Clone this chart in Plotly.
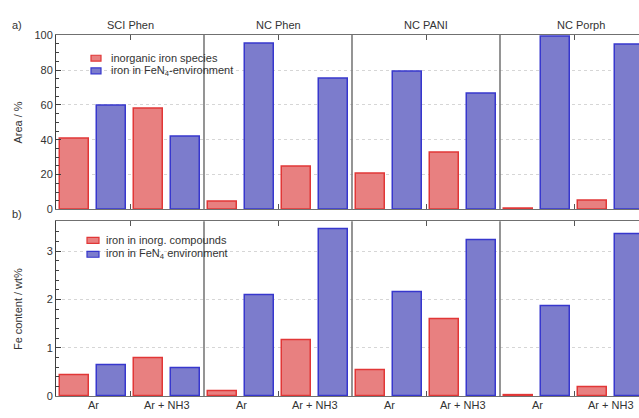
import plotly.graph_objects as go

# ---- data ----
groups = ["SCI Phen", "NC Phen", "NC PANI", "NC Porph"]
conditions = ["Ar", "Ar + NH3"]
area_inorg = [40.4, 57.7, 4.5, 24.7, 20.3, 32.8, 0.5, 5.0]
area_fen4 = [59.4, 41.9, 95.1, 74.9, 79.2, 66.6, 99.4, 94.4]
fe_inorg = [0.42, 0.79, 0.10, 1.15, 0.53, 1.59, 0.02, 0.18]
fe_fen4 = [0.63, 0.58, 2.08, 3.46, 2.14, 3.22, 1.86, 3.35]
legend_top = ["inorganic iron species", "iron in FeN<sub>4</sub>-environment"]
legend_bot = ["iron in inorg. compounds", "iron in FeN<sub>4</sub> environment"]

W, H = 639, 418
ML = 56
FONT = "Liberation Sans, Arial, sans-serif"
TXT = "#333333"

RED_FILL = "rgb(232,128,128)"
RED_LINE = "rgb(225,55,55)"
BLUE_FILL = "rgb(124,124,204)"
BLUE_LINE = "rgb(55,55,205)"

n = len(area_inorg)
x_red = [2 * i for i in range(n)]
x_blue = [2 * i + 1 for i in range(n)]

def py(px):
    return (H - px) / H

def pxx(px):
    return (px - ML) / (W - ML)

fig = go.Figure()
bw = 0.78
fig.add_trace(go.Bar(x=x_red, y=area_inorg, width=bw, name=legend_top[0], showlegend=False,
                     marker=dict(color=RED_FILL, line=dict(color=RED_LINE, width=1.5)),
                     xaxis="x", yaxis="y"))
fig.add_trace(go.Bar(x=x_blue, y=area_fen4, width=bw, name=legend_top[1], showlegend=False,
                     marker=dict(color=BLUE_FILL, line=dict(color=BLUE_LINE, width=1.5)),
                     xaxis="x", yaxis="y"))
fig.add_trace(go.Bar(x=x_red, y=fe_inorg, width=bw, name=legend_bot[0], showlegend=False,
                     marker=dict(color=RED_FILL, line=dict(color=RED_LINE, width=1.5)),
                     xaxis="x2", yaxis="y2"))
fig.add_trace(go.Bar(x=x_blue, y=fe_fen4, width=bw, name=legend_bot[1], showlegend=False,
                     marker=dict(color=BLUE_FILL, line=dict(color=BLUE_LINE, width=1.5)),
                     xaxis="x2", yaxis="y2"))

xr = [-0.5, -0.5 + (W - ML) / 37.0]
panel_centers = [1.5, 5.5, 9.5, 13.5]
xcommon = dict(range=xr, showgrid=False, zeroline=False, showline=True, linecolor="#707070",
               linewidth=1, mirror="ticks", tickmode="array", tickvals=panel_centers,
               ticks="inside", ticklen=5, tickcolor="#555", showticklabels=False)
ycommon = dict(showline=True, linecolor="#404040", linewidth=1, zeroline=False,
               ticks="inside", ticklen=5, tickcolor="#404040",
               showgrid=True, gridcolor="#d6d6d6", griddash="dot", gridwidth=1,
               tickfont=dict(family=FONT, size=11, color=TXT))

top_dom = [py(209.5), py(29.5)]
bot_dom = [py(401.5), py(221.7)]

fig.update_layout(
    width=W, height=H,
    margin=dict(l=ML, r=0, t=0, b=0),
    paper_bgcolor="white", plot_bgcolor="white",
    bargap=0, barmode="overlay", showlegend=False,
    font=dict(family=FONT, size=11, color=TXT),
    xaxis=dict(domain=[0, 1], anchor="y", **xcommon),
    xaxis2=dict(domain=[0, 1], anchor="y2", **xcommon),
    yaxis=dict(domain=top_dom, anchor="x", range=[0, 100.3], tickvals=[0, 20, 40, 60, 80, 100],
               minor=dict(dtick=5, ticks="inside", ticklen=3, tickcolor="#404040", showgrid=False),
               **ycommon),
    yaxis2=dict(domain=bot_dom, anchor="x2", range=[0, 3.62], tickvals=[0, 1, 2, 3],
                minor=dict(dtick=0.2, ticks="inside", ticklen=3, tickcolor="#404040", showgrid=False),
                **ycommon),
)

# panel dividers
shapes = []
for xd in [3.5, 7.5, 11.5]:
    for xa, ya in [("x", "y domain"), ("x2", "y2 domain")]:
        shapes.append(dict(type="line", xref=xa, yref=ya, x0=xd, x1=xd, y0=0, y1=1,
                           line=dict(color="#7a7a7a", width=1.6)))

ann = []
# manual legends (swatch + text)
def add_legend(labels, sw_x0, sw_x1, text_x, row_y):
    fills = [(RED_FILL, RED_LINE), (BLUE_FILL, BLUE_LINE)]
    for lab, (fc, lc), yc in zip(labels, fills, row_y):
        shapes.append(dict(type="rect", xref="paper", yref="paper",
                           x0=pxx(sw_x0), x1=pxx(sw_x1), y0=py(yc + 3), y1=py(yc - 3),
                           fillcolor=fc, line=dict(color=lc, width=1.2)))
        ann.append(dict(text=lab, x=pxx(text_x), y=py(yc), xref="paper", yref="paper",
                        showarrow=False, xanchor="left", yanchor="middle",
                        font=dict(size=11, color=TXT)))

add_legend(legend_top, 91, 101, 109, [53.7, 66.8])
add_legend(legend_bot, 87, 99, 104, [241.3, 255.7])
fig.update_layout(shapes=shapes)

title_x = [1.5, 5.5, 9.5, 13.7]
for g, xv in zip(groups, title_x):
    ann.append(dict(text=g, x=xv, xref="x", y=py(20), yref="paper", showarrow=False,
                    xanchor="center", yanchor="middle", font=dict(size=11, color=TXT)))
for i in range(n):
    ann.append(dict(text=conditions[i % 2], x=2 * i + 0.5, xref="x2", y=py(411), yref="paper",
                    showarrow=False, xanchor="center", yanchor="middle",
                    font=dict(size=11, color=TXT)))
ann.append(dict(text="a)", x=pxx(17), y=py(20), xref="paper", yref="paper", showarrow=False,
                xanchor="center", yanchor="middle", font=dict(size=11, color=TXT)))
ann.append(dict(text="b)", x=pxx(17), y=py(214), xref="paper", yref="paper", showarrow=False,
                xanchor="center", yanchor="middle", font=dict(size=11, color=TXT)))
ann.append(dict(text="Area / %", x=pxx(18), y=py(120), xref="paper", yref="paper",
                showarrow=False, textangle=-90, xanchor="center", yanchor="middle",
                font=dict(size=11, color=TXT)))
ann.append(dict(text="Fe content / wt%", x=pxx(18), y=py(312), xref="paper", yref="paper",
                showarrow=False, textangle=-90, xanchor="center", yanchor="middle",
                font=dict(size=11, color=TXT)))
fig.update_layout(annotations=ann)

fig.write_html("out.html")
